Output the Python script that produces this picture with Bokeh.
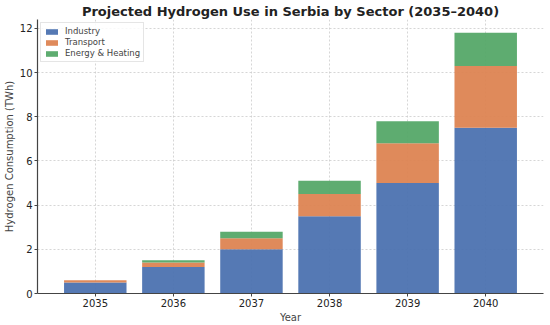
from bokeh.plotting import figure
from bokeh.models import ColumnDataSource, FixedTicker, Range1d, Legend
from bokeh.embed import file_html
from bokeh.resources import INLINE

years = ["2035", "2036", "2037", "2038", "2039", "2040"]
industry = [0.5, 1.2, 2.0, 3.5, 5.0, 7.5]
transport = [0.1, 0.2, 0.5, 1.0, 1.8, 2.8]
energy = [0.0, 0.1, 0.3, 0.6, 1.0, 1.5]
sectors = ["Industry", "Transport", "Energy & Heating"]
colors = ["#4C72B0", "#DD8452", "#55A868"]
y_ticks = [0, 2, 4, 6, 8, 10, 12]

xs = list(range(len(years)))
src = ColumnDataSource(dict(x=xs, Industry=industry, Transport=transport))
src.data["Energy & Heating"] = energy

FONT = "DejaVu Sans"
p = figure(frame_width=506, frame_height=274, output_backend="svg", toolbar_location=None,
           x_range=Range1d(-0.74, 5.74), y_range=Range1d(0, 12.4),
           title="Projected Hydrogen Use in Serbia by Sector (2035\u20132040)",
           min_border_left=0, min_border_right=2, min_border_top=0, min_border_bottom=0)

renderers = p.vbar_stack(sectors, x="x", width=0.8,
                         color=colors, source=src, fill_alpha=0.95, line_alpha=0)

legend = Legend(items=[(s, [r]) for s, r in zip(sectors, renderers)], location="top_left")
legend.label_text_font = FONT
legend.label_text_font_size = "8.5px"
legend.label_height = 10
legend.glyph_height = 7
legend.glyph_width = 15
legend.spacing = 1
legend.padding = 3
legend.margin = 3
legend.label_standoff = 6
legend.border_line_color = "#cccccc"
legend.background_fill_alpha = 0.85
p.add_layout(legend)

p.title.text_font = FONT
p.title.text_font_size = "13px"
p.title.text_font_style = "bold"
p.title.align = "center"
p.title.text_color = "#222222"
p.title.standoff = 2

p.xaxis.ticker = FixedTicker(ticks=xs)
p.xaxis.major_label_overrides = {i: y for i, y in enumerate(years)}
p.yaxis.ticker = FixedTicker(ticks=y_ticks)
p.xaxis.axis_label = "Year"
p.yaxis.axis_label = "Hydrogen Consumption (TWh)"
for ax in (p.xaxis, p.yaxis):
    ax.axis_label_text_font = FONT
    ax.axis_label_text_font_size = "10px"
    ax.axis_label_text_font_style = "normal"
    ax.major_label_text_font = FONT
    ax.major_label_text_font_size = "10px"
    ax.major_label_text_color = "#222222"
    ax.axis_line_color = "#444444"
    ax.axis_line_width = 1.2
    ax.major_tick_line_color = "#444444"
    ax.major_tick_out = 3
    ax.major_tick_in = 0
    ax.minor_tick_line_color = None
    ax.axis_label_standoff = 2
p.xaxis.major_label_standoff = 2
p.yaxis.major_label_standoff = 2

p.grid.grid_line_color = "#cccccc"
p.grid.grid_line_dash = "2 2"
p.grid.grid_line_alpha = 0.8
p.outline_line_color = None

open("out.html", "w").write(file_html(p, INLINE))
